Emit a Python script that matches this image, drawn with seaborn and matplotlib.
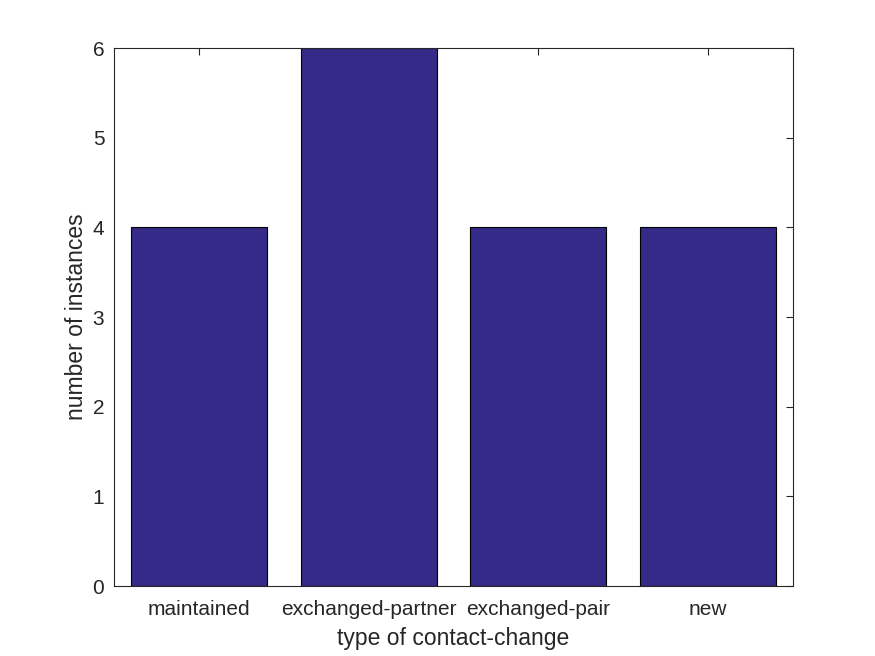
import matplotlib
matplotlib.use('Agg')
import matplotlib.pyplot as plt
import seaborn as sns
import pandas as pd

categorias = ['maintained', 'exchanged-partner', 'exchanged-pair', 'new']
instancias = [4, 6, 4, 4]

sns.set_style('white')
plt.rcParams['font.family'] = ['Liberation Sans', 'DejaVu Sans']

df = pd.DataFrame({'tipo': categorias, 'n': instancias})

fig = plt.figure(figsize=(8.75, 6.56), dpi=100)
ax = fig.add_axes([0.1303, 0.1067, 0.7760, 0.8201])

sns.barplot(data=df, x='tipo', y='n', color='#352A87', saturation=1,
            edgecolor='black', linewidth=0.8, width=0.8, ax=ax)

ax.set_xlim(-0.5, 3.5)
ax.set_ylim(0, 6)
ax.set_yticks(range(0, 7))
ax.set_xlabel('type of contact-change', fontsize=16.5, color='#262626', labelpad=6)
ax.set_ylabel('number of instances', fontsize=16.5, color='#262626', labelpad=3)
ax.tick_params(axis='both', direction='in', length=5, width=0.8,
               labelsize=15, colors='#262626', top=True, right=True,
               labeltop=False, labelright=False)
ax.tick_params(axis='x', pad=10)
ax.tick_params(axis='y', pad=7)
for s in ax.spines.values():
    s.set_visible(True)
    s.set_color('#262626')
    s.set_linewidth(0.8)

fig.savefig('out.png', dpi=100)
